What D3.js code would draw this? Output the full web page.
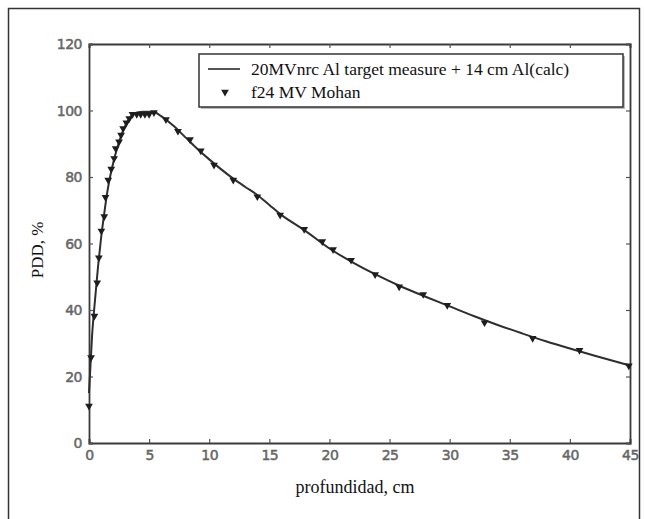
<!DOCTYPE html>
<html><head><meta charset="utf-8">
<script src="https://cdn.jsdelivr.net/npm/d3@7"></script>
<style>html,body{margin:0;padding:0;background:#fff;}svg{display:block;}</style>
</head><body>
<svg id="c" width="645" height="519"></svg>
<script>
const xTicks = [0,5,10,15,20,25,30,35,40,45];
const yTicks = [0,20,40,60,80,100,120];
const calcX = [0,0.25,0.5,0.75,1,1.25,1.5,1.75,2,2.25,2.5,2.75,3,3.25,3.5,3.75,4,4.5,5,5.5,6,7,8,9,10,11,12,13,14,15,16,18,20,22,24,26,28,30,32,34,36,38,40,42,45];
const calcY = [15,32,43,53,61.5,68.5,75,80,84,87.5,90.5,93.2,95.3,97,98.3,99.0,99.4,99.6,99.6,99.4,98.3,95.5,92,88.5,85.3,82.3,79.5,77,74.6,71.6,68.6,63.8,58.5,54.2,50.4,47,44,41.1,38.2,35.5,33,30.6,28.4,26.3,23.3];
const measX = [0,0.17,0.45,0.68,0.82,1.03,1.27,1.37,1.6,1.85,2.09,2.22,2.5,2.67,2.84,3.11,3.35,3.62,3.97,4.3,4.65,5.0,5.4,6.4,7.4,8.4,9.3,10.4,12.0,14.0,15.9,17.9,19.4,20.3,21.8,23.8,25.8,27.8,29.8,32.9,36.9,40.8,44.9];
const measY = [11.1,25.7,38.2,48.2,55.7,63.8,68.1,73.9,79.1,82.4,85.6,88.6,90.6,92.6,94.6,96.3,97.6,98.9,98.9,98.9,98.9,98.9,99.4,97.3,93.8,91.3,87.9,83.6,79.1,74.1,68.6,64.3,60.6,58.2,55.0,50.7,47.0,44.7,41.4,36.2,31.5,27.9,23.2];
const seriesNames = ["20MVnrc Al target measure + 14 cm Al(calc)", "f24 MV Mohan"];
const xTitle = "profundidad, cm";
const yTitle = "PDD, %";

const svg = d3.select("#c");
const L=89, R=630, T=44, B=443;
const x = d3.scaleLinear().domain([0,45]).range([L,R]);
const y = d3.scaleLinear().domain([0,120]).range([B,T]);
const axisCol = "#3a3a3a", tickLabCol = "#666";

svg.append("rect").attr("x",0).attr("y",0).attr("width",645).attr("height",519).attr("fill","#fff");
svg.append("rect").attr("x",8.5).attr("y",8.5).attr("width",631).attr("height",530)
  .attr("fill","none").attr("stroke","#333").attr("stroke-width",1.5);

const tickFont = "'DejaVu Sans', sans-serif";
const gx = svg.append("g").attr("transform",`translate(0,${B})`)
  .call(d3.axisBottom(x).tickValues(xTicks).tickSize(-4).tickPadding(7).tickFormat(d3.format("d")));
const gxt = svg.append("g").attr("transform",`translate(0,${T})`)
  .call(d3.axisTop(x).tickValues(xTicks).tickSize(-4).tickFormat(""));
const gy = svg.append("g").attr("transform",`translate(${L},0)`)
  .call(d3.axisLeft(y).tickValues(yTicks).tickSize(-4).tickPadding(7).tickFormat(d3.format("d")));
const gyr = svg.append("g").attr("transform",`translate(${R},0)`)
  .call(d3.axisRight(y).tickValues(yTicks).tickSize(-4).tickFormat(""));
[gx,gxt,gy,gyr].forEach(g=>{
  g.select(".domain").attr("stroke",axisCol).attr("stroke-width",1.8);
  g.selectAll(".tick line").attr("stroke","#555").attr("stroke-width",1.2);
  g.selectAll(".tick text").attr("fill",tickLabCol).attr("font-family",tickFont).attr("font-size",14)
    .attr("stroke",tickLabCol).attr("stroke-width",0.5).attr("letter-spacing",-0.5);
});
gy.selectAll(".tick text").attr("dy","0.35em");

const line = d3.line().curve(d3.curveMonotoneX).x((d,i)=>x(calcX[i])).y(d=>y(d));
svg.append("path").datum(calcY).attr("d",line).attr("fill","none")
  .attr("stroke","#2e2e2e").attr("stroke-width",2);

const tri = d3.symbol().type(d3.symbolTriangle).size(26);
svg.append("g").selectAll("path").data(measY).join("path")
  .attr("d",tri)
  .attr("transform",(d,i)=>`translate(${x(measX[i])},${y(d)}) rotate(180)`)
  .attr("fill","#1e1e1e");

const lg = svg.append("g");
lg.append("rect").attr("x",201).attr("y",56).attr("width",424).attr("height",53).attr("fill","#bbb");
lg.append("rect").attr("x",199).attr("y",54).attr("width",424).attr("height",53).attr("fill","#fff")
  .attr("stroke","#333").attr("stroke-width",1.5);
lg.append("line").attr("x1",208).attr("x2",240).attr("y1",69).attr("y2",69).attr("stroke","#555").attr("stroke-width",2);
lg.append("path").attr("d",tri).attr("transform","translate(225,92) rotate(180)").attr("fill","#1e1e1e");
const serif = "'Liberation Serif', 'Times New Roman', 'DejaVu Serif', serif";
lg.append("text").attr("x",251).attr("y",75).attr("font-family",serif).attr("font-size",17.5).attr("fill","#111").text(seriesNames[0]);
lg.append("text").attr("x",251).attr("y",98).attr("font-family",serif).attr("font-size",17.5).attr("fill","#111").text(seriesNames[1]);

svg.append("text").attr("x",355).attr("y",493).attr("text-anchor","middle")
  .attr("font-family",serif).attr("font-size",18).attr("fill","#111").text(xTitle);
svg.append("text").attr("transform",`translate(43,250) rotate(-90)`).attr("text-anchor","middle")
  .attr("font-family",serif).attr("font-size",17).attr("fill","#111").text(yTitle);
</script>
</body></html>
